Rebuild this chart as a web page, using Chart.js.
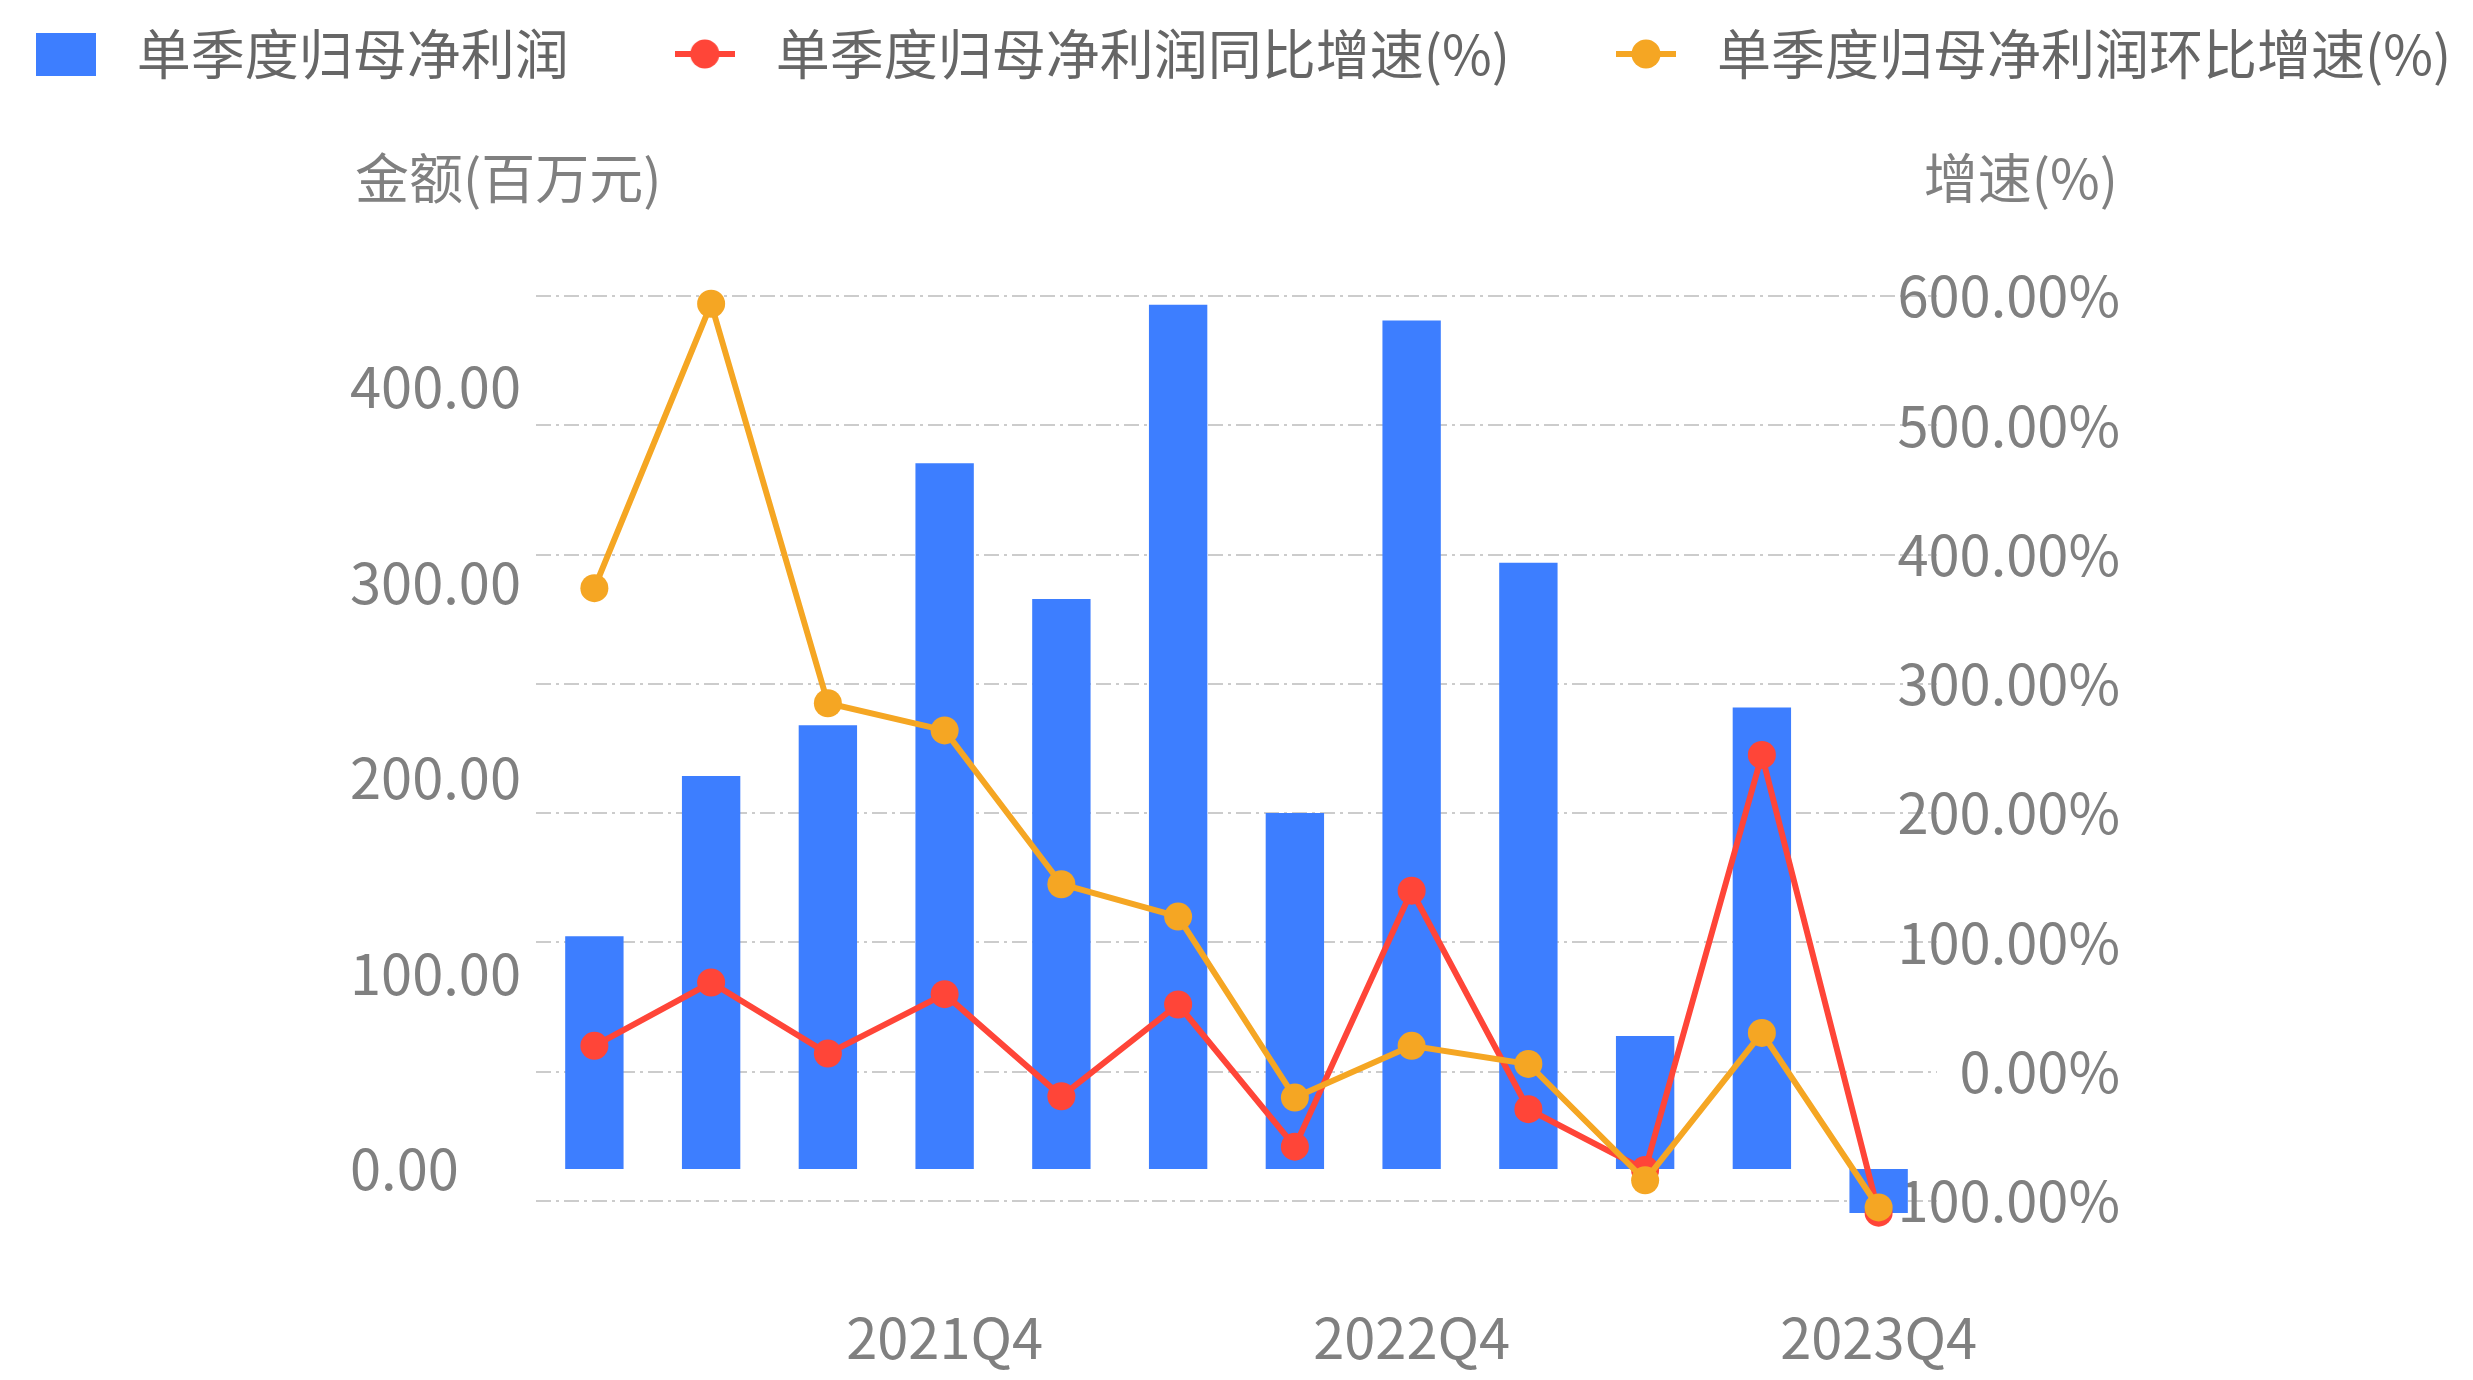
<!DOCTYPE html>
<html lang="zh-CN">
<head>
<meta charset="utf-8">
<title>单季度归母净利润</title>
<script src="https://cdn.jsdelivr.net/npm/chart.js@4.4.1/dist/chart.umd.min.js"></script>
<style>
  html, body { margin: 0; padding: 0; background: #fff; }
</style>
</head>
<body>
<canvas id="chart" width="2473" height="1380"></canvas>
<script>
// Quarterly attributable net profit (bars, left axis) with YoY / QoQ growth (lines, right axis).

const quarters = ["2021Q1", "2021Q2", "2021Q3", "2021Q4", "2022Q1", "2022Q2",
                  "2022Q3", "2022Q4", "2023Q1", "2023Q2", "2023Q3", "2023Q4"];
const netProfit = [119, 201, 227, 361, 291.5, 442, 182, 434, 310, 68, 236, -22.5];
const yoyGrowth = [20, 69, 14, 60, -19, 52, -58, 140, -29, -76, 245, -109];
const qoqGrowth = [374, 594, 285, 264, 145, 120, -20, 20, 6, -84, 30, -105];
const amountTicks = [0, 100, 200, 300, 400];

const BLUE = "#3d7eff", RED = "#ff4538", ORANGE = "#f5a623";
const GREY = "#808080";
const FONT = "'Noto Sans CJK SC', 'Noto Sans', sans-serif";

// legend swatches
function lineMarker(color) {
  const c = document.createElement("canvas");
  c.width = 60; c.height = 30;
  const g = c.getContext("2d");
  g.strokeStyle = color; g.lineWidth = 6;
  g.beginPath(); g.moveTo(0, 15); g.lineTo(60, 15); g.stroke();
  g.fillStyle = color;
  g.beginPath(); g.arc(30, 15, 14.5, 0, Math.PI * 2); g.fill();
  return c;
}
function boxMarker(color) {
  const c = document.createElement("canvas");
  c.width = 60; c.height = 43;
  const g = c.getContext("2d");
  g.fillStyle = color; g.fillRect(0, 0, 60, 43);
  return c;
}
const markers = [boxMarker(BLUE), lineMarker(RED), lineMarker(ORANGE)];

// horizontal axis titles above the plot
const axisTitles = {
  id: "axisTitles",
  afterDraw(chart) {
    const { ctx, chartArea, scales } = chart;
    const y = chartArea.top - 118;
    ctx.save();
    ctx.font = "54px " + FONT;
    ctx.fillStyle = GREY;
    ctx.textBaseline = "middle";
    ctx.textAlign = "left";
    ctx.fillText("金额(百万元)", scales.y.left + 5, y);
    ctx.textAlign = "right";
    ctx.fillText("增速(%)", scales.y1.right - 2, y);
    ctx.restore();
  }
};

const tickFont = { size: 56, family: FONT };
const spacer = (w) => ({
  type: "linear", weight: 10,
  grid: { display: false }, border: { display: false }, ticks: { display: false },
  afterFit: (s) => { s.width = w; }
});

new Chart(document.getElementById("chart"), {
  type: "bar",
  data: {
    labels: quarters,
    datasets: [
      { type: "bar", label: "单季度归母净利润", data: netProfit, backgroundColor: BLUE,
        yAxisID: "y", categoryPercentage: 1, barPercentage: 0.5, order: 3, clip: false },
      { type: "line", label: "单季度归母净利润同比增速(%)", data: yoyGrowth,
        borderColor: RED, backgroundColor: RED, pointBackgroundColor: RED, borderWidth: 6,
        pointRadius: 14, pointBorderWidth: 0, tension: 0, yAxisID: "y1", order: 2, clip: false },
      { type: "line", label: "单季度归母净利润环比增速(%)", data: qoqGrowth,
        borderColor: ORANGE, backgroundColor: ORANGE, pointBackgroundColor: ORANGE, borderWidth: 6,
        pointRadius: 14, pointBorderWidth: 0, tension: 0, yAxisID: "y1", order: 1, clip: false }
    ]
  },
  options: {
    responsive: false,
    animation: false,
    layout: { padding: { top: -65, left: -200, right: -200, bottom: 0 } },
    plugins: {
      tooltip: { enabled: false },
      legend: {
        position: "top",
        labels: {
          font: { size: 54, family: FONT },
          color: "#666666",
          usePointStyle: true,
          pointStyleWidth: 88,
          padding: 92,
          sort: (a, b) => a.datasetIndex - b.datasetIndex,
          generateLabels(chart) {
            const items = Chart.defaults.plugins.legend.labels.generateLabels(chart);
            items.forEach((it) => { it.pointStyle = markers[it.datasetIndex]; });
            return items;
          }
        }
      },
      // spacer between legend and plot, holds the axis titles row
      subtitle: { display: true, text: "", weight: 500, padding: 0, font: { size: 205, lineHeight: 1 } }
    },
    scales: {
      x: {
        grid: { display: false },
        border: { display: false },
        ticks: {
          autoSkip: false, maxRotation: 0, padding: 95, color: GREY, font: tickFont,
          callback: (v, i) => quarters[i].endsWith("Q4") ? quarters[i] : ""
        },
        afterFit: (s) => { s.height = 179; }
      },
      padL: { ...spacer(550), position: "left" },
      padR: { ...spacer(553), position: "right" },
      y: {
        position: "left",
        min: -16.4, max: 446.5,
        grid: { display: false },
        border: { display: false },
        ticks: { color: GREY, font: tickFont, crossAlign: "far", callback: (v) => v.toFixed(2) },
        afterBuildTicks: (s) => { s.ticks = amountTicks.map((v) => ({ value: v })); },
        afterFit: (s) => { s.width = 186; }
      },
      y1: {
        position: "right",
        min: -100, max: 600,
        grid: { color: "#cccccc", lineWidth: 2, drawTicks: false },
        border: { display: false, dash: [15, 5, 3, 5] },
        // mirrored so the right-aligned labels may run into the plot, as in the original
        ticks: { stepSize: 100, color: GREY, font: tickFont, mirror: true, crossAlign: "near", padding: 183,
                 callback: (v) => v.toFixed(2) + "%" },
        afterFit: (s) => { s.width = 183; s.paddingTop = 34; s.paddingBottom = 34; }
      }
    }
  },
  plugins: [axisTitles]
});
</script>
</body>
</html>
